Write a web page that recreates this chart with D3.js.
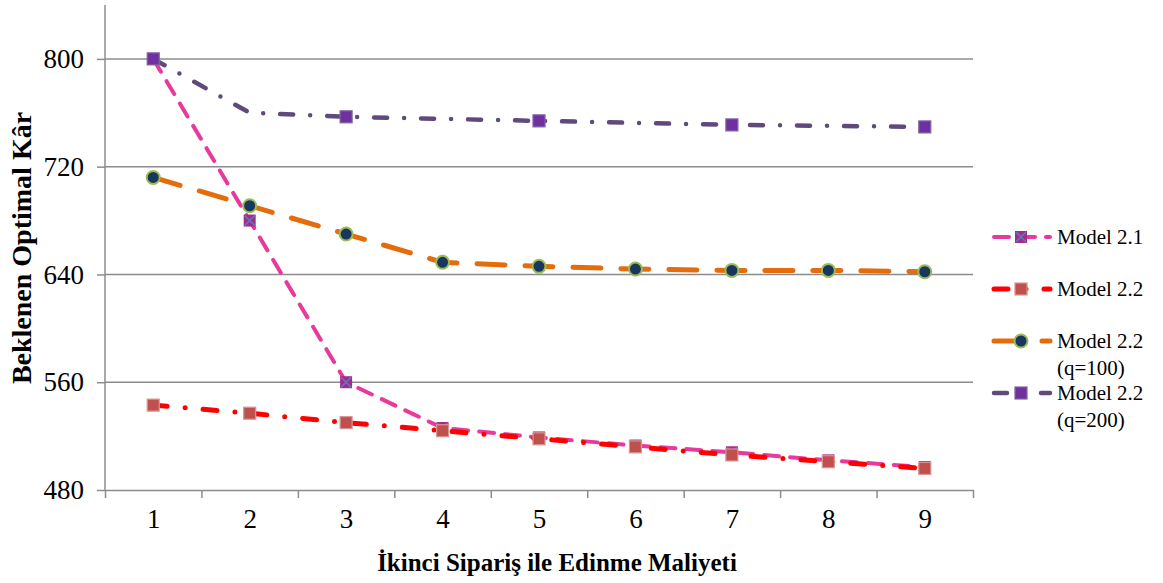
<!DOCTYPE html>
<html>
<head>
<meta charset="utf-8">
<script src="https://cdn.jsdelivr.net/npm/d3@7/dist/d3.min.js"></script>
<style>
  html, body { margin: 0; padding: 0; background: #fff; }
  svg { display: block; }
  svg text { font-family: "Liberation Serif", serif; }
</style>
</head>
<body>
<svg id="chart" width="1163" height="583"></svg>
<script>
// Category axis and series values
const categories = [1, 2, 3, 4, 5, 6, 7, 8, 9];
const model21 = [800, 680, 560, 526, 519, 513, 508, 502, 497];
const model22 = [543, 537, 530, 524, 518, 512, 506, 501, 496];
const model22q100 = [712, 691, 670, 649, 646, 644, 643, 643, 642];
const model22q200 = [800, 760, 757, 755.5, 754, 752.5, 751, 750.3, 749.5];
const yTicks = [480, 560, 640, 720, 800];
const seriesNames = ["Model 2.1", "Model 2.2", "Model 2.2|(q=100)", "Model 2.2|(q=200)"];

const svg = d3.select("#chart");
const plotLeft = 105, plotRight = 973, plotTop = 5, plotBottom = 490;

const x = d3.scaleLinear().domain([0.5, 9.5]).range([plotLeft, plotRight]);
const y = d3.scaleLinear().domain([480, 840]).range([plotBottom, plotTop]);

// Horizontal gridlines
svg.append("g").selectAll("line").data(yTicks.slice(1)).join("line")
  .attr("x1", plotLeft).attr("x2", plotRight)
  .attr("y1", d => y(d)).attr("y2", d => y(d))
  .attr("stroke", "#8c8c8c").attr("stroke-width", 1.5);

// Y axis
const yAxis = svg.append("g").attr("transform", `translate(${plotLeft},0)`)
  .call(d3.axisLeft(y).tickValues(yTicks).tickSize(8).tickPadding(13).tickSizeOuter(0));
yAxis.attr("font-family", null).attr("font-size", null);
yAxis.select(".domain").attr("stroke", "#8c8c8c").attr("stroke-width", 1.5)
  .attr("d", `M0,${plotTop}V${plotBottom}`);
yAxis.selectAll(".tick line").attr("stroke", "#8c8c8c").attr("stroke-width", 1.5);
yAxis.selectAll("text").attr("font-size", 27).attr("fill", "#000");

// X axis: tick marks between categories, labels at category centres
const xTickAxis = svg.append("g").attr("transform", `translate(0,${plotBottom})`)
  .call(d3.axisBottom(x).tickValues(d3.range(0.5, 10, 1)).tickSize(8).tickFormat("").tickSizeOuter(0));
xTickAxis.select(".domain").attr("stroke", "#8c8c8c").attr("stroke-width", 1.5);
xTickAxis.selectAll(".tick line").attr("stroke", "#8c8c8c").attr("stroke-width", 1.5);

const xLabelAxis = svg.append("g").attr("transform", `translate(0,${plotBottom})`)
  .call(d3.axisBottom(x).tickValues(categories).tickSize(0).tickPadding(19).tickFormat(d3.format("d")));
xLabelAxis.attr("font-family", null).attr("font-size", null);
xLabelAxis.select(".domain").remove();
xLabelAxis.selectAll("text").attr("font-size", 27).attr("fill", "#000");

// Axis titles
svg.append("text")
  .attr("x", 557).attr("y", 571)
  .attr("text-anchor", "middle").attr("font-weight", "bold").attr("font-size", 25)
  .text("İkinci Sipariş ile Edinme Maliyeti");
svg.append("text")
  .attr("transform", "translate(31,248) rotate(-90)")
  .attr("text-anchor", "middle").attr("font-weight", "bold").attr("font-size", 28)
  .text("Beklenen Optimal Kâr");

// Series styling
const styles = [
  { values: model21, color: "#e8399c", width: 4, dash: "15 11", marker: "xsquare" },
  { values: model22, color: "#ff0000", width: 5, dash: "14 18 0 18", marker: "square", fill: "#c0504d", stroke: "#d99694" },
  { values: model22q100, color: "#e46c0a", width: 5, dash: "28 20", marker: "circle", fill: "#17375e", stroke: "#9bbb59" },
  { values: model22q200, color: "#604a7b", width: 4.5, dash: "13 17 0 17", marker: "square", fill: "#7030a0", stroke: "#8064a2", every: 2 }
];

const line = d3.line().x((d, i) => x(categories[i])).y(d => y(d));

function drawMarker(g, type, st, cx, cy) {
  if (type === "circle") {
    g.append("circle").attr("cx", cx).attr("cy", cy).attr("r", 6.5)
      .attr("fill", st.fill).attr("stroke", st.stroke).attr("stroke-width", 2);
  } else if (type === "square") {
    g.append("rect").attr("x", cx - 6).attr("y", cy - 6).attr("width", 12).attr("height", 12)
      .attr("fill", st.fill).attr("stroke", st.stroke).attr("stroke-width", 1.2);
  } else {
    g.append("rect").attr("x", cx - 6).attr("y", cy - 6).attr("width", 12).attr("height", 12)
      .attr("fill", "#a8288c");
    g.append("path").attr("d", `M${cx - 5},${cy - 5}L${cx + 5},${cy + 5}M${cx + 5},${cy - 5}L${cx - 5},${cy + 5}`)
      .attr("stroke", "#4f81bd").attr("stroke-width", 1.6);
  }
}

styles.forEach(st => {
  const g = svg.append("g");
  g.append("path").datum(st.values).attr("d", line)
    .attr("fill", "none").attr("stroke", st.color).attr("stroke-width", st.width)
    .attr("stroke-dasharray", st.dash).attr("stroke-linecap", "round").attr("stroke-linejoin", "round");
  st.values.forEach((v, i) => {
    if (st.every && i % st.every !== 0) return;
    drawMarker(g, st.marker, st, x(categories[i]), y(v));
  });
});

// Legend
const legendY = [237, 289, 341, 393];
styles.forEach((st, k) => {
  const g = svg.append("g");
  const ly = legendY[k];
  g.append("line").attr("x1", 994).attr("x2", 1050).attr("y1", ly).attr("y2", ly)
    .attr("stroke", st.color).attr("stroke-width", st.width)
    .attr("stroke-dasharray", st.dash).attr("stroke-linecap", "round");
  drawMarker(g, st.marker, st, 1021, ly);
  const lines = seriesNames[k].split("|");
  lines.forEach((t, j) => {
    g.append("text").attr("x", 1057).attr("y", ly + 7 + j * 27)
      .attr("font-size", 21).attr("fill", "#000").text(t);
  });
});
</script>
</body>
</html>
